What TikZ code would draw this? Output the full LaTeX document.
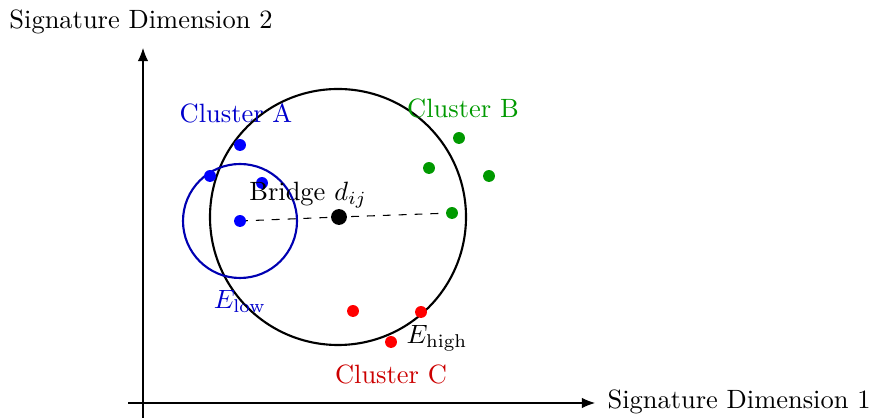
\documentclass[tikz,border=0pt]{standalone}
\usetikzlibrary{arrows.meta}
\begin{document}
\begin{tikzpicture}[x=0.3779pt,y=-0.3779pt,
  dotA/.style={circle,fill=blue,inner sep=0pt,minimum size=4.5pt},
  dotB/.style={circle,fill=green!60!black,inner sep=0pt,minimum size=4.5pt},
  dotC/.style={circle,fill=red,inner sep=0pt,minimum size=4.5pt},
  bridgedot/.style={circle,fill=black,inner sep=0pt,minimum size=6pt},
  axis/.style={-{Latex[length=5pt,width=4pt]}},
  lbl/.style={inner sep=0pt}]
\useasboundingbox (0,0) rectangle (870,420);
% axes
\coordinate (xs) at (128,403);
\coordinate (xe) at (595,403);
\coordinate (ys) at (143,418);
\coordinate (ye) at (143,48);
\draw[axis] (xs) -- (xe);
\draw[axis] (ys) -- (ye);
\node[lbl,anchor=west] (xl) at (607,402) {Signature Dimension 1};
\node[lbl] (yl) at (141,22) {Signature Dimension 2};
% circles
\draw[thick] (338,217) circle (128);
\draw[thick,blue!70!black] (240,221) circle (57);
% dashed link
\coordinate (pa) at (240,221);
\coordinate (pb) at (339,217);
\coordinate (pc) at (452,213);
\draw[dashed] (pa) -- (pb) -- (pc);
\node[dotA] (a4) at (pa) {};
\node[bridgedot] (br) at (pb) {};
\node[dotB] (b4) at (pc) {};
% cluster A
\node[dotA] (a1) at (240,145) {};
\node[dotA] (a2) at (210,176) {};
\node[dotA] (a3) at (262,183) {};
% cluster B
\node[dotB] (b1) at (459,138) {};
\node[dotB] (b2) at (429,168) {};
\node[dotB] (b3) at (489,176) {};
% cluster C
\node[dotC] (c1) at (353,311) {};
\node[dotC] (c2) at (421,312) {};
\node[dotC] (c3) at (391,342) {};
% labels
\node[lbl,text=blue!80!black] (la) at (236,113) {Cluster A};
\node[lbl,text=green!60!black] (lb) at (463,108) {Cluster B};
\node[lbl,text=red!80!black] (lc) at (391,374) {Cluster C};
\node[lbl] (lbr) at (308,195) {Bridge $d_{ij}$};
\node[lbl,text=blue!80!black] (el) at (240,301) {$E_{\mathrm{low}}$};
\node[lbl] (eh) at (437,338) {$E_{\mathrm{high}}$};
\end{tikzpicture}
\end{document}
